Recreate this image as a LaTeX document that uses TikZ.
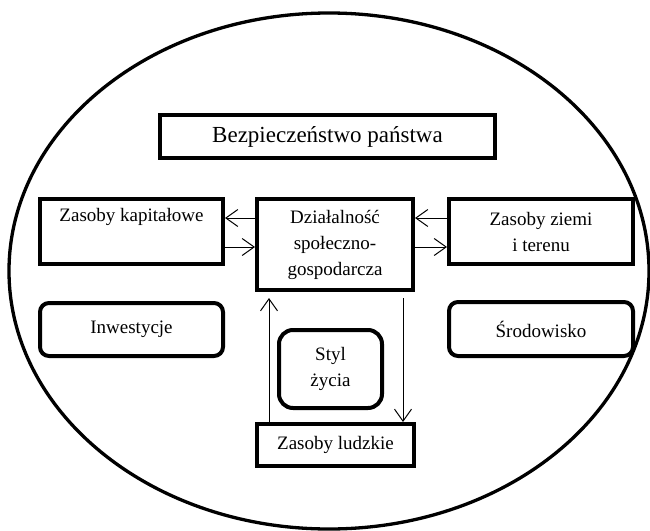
\documentclass[tikz,border=0pt]{standalone}
\usepackage{fontspec}
\setmainfont{Liberation Serif}
\usetikzlibrary{positioning,arrows.meta,calc}
\tikzset{
  box/.style={draw, line width=4pt, rectangle, align=center, inner sep=0pt,
              font=\fontsize{19}{26}\selectfont},
  rbox/.style={box, rounded corners=9pt},
  titlebox/.style={box, font=\fontsize{23}{28}\selectfont},
  arr/.style={-{Straight Barb[length=12pt,width=17pt]}, line width=1pt},
  outline/.style={line width=3.3pt}
}

\begin{document}
\begin{tikzpicture}[x=1pt, y=-1pt]
\useasboundingbox (0,0) rectangle (650,530);
\draw[outline] (329,271) ellipse [x radius=320, y radius=258];
% boxes
\node (bezp) [titlebox, minimum width=335pt, minimum height=43pt] at (327.5,136.5) {Bezpieczeństwo państwa};
\node (kap) [box, minimum width=183pt, minimum height=65pt] at (131.5,231.5) {Zasoby kapitałowe\\\strut};
\node (dzial) [box, minimum width=156pt, minimum height=91pt] at (335,244.5) {Działalność\\społeczno-\\gospodarcza};
\node (ziemia) [box, minimum width=184pt, minimum height=65pt] at (541,231.5) {Zasoby ziemi\\i terenu};
\node (inw) [rbox, minimum width=183pt, minimum height=53pt] at (131.5,329.5) {Inwestycje};
\node (srod) [rbox, minimum width=184pt, minimum height=54pt] at (541,329) {Środowisko};
\node (styl) [rbox, rounded corners=14pt, minimum width=103pt, minimum height=78pt] at (330.5,369) {Styl\\życia};
\node (ludz) [box, minimum width=157pt, minimum height=42pt] at (335.5,445) {Zasoby ludzkie};
% connectors
\draw[arr] ($(dzial.north west)+(0,21)$) -- ($(kap.north east)+(0,21)$);
\draw[arr] ($(kap.north east)+(0,50)$) -- ($(dzial.north west)+(0,50)$);
\draw[arr] ($(ziemia.north west)+(0,21)$) -- ($(dzial.north east)+(0,21)$);
\draw[arr] ($(dzial.north east)+(0,50)$) -- ($(ziemia.north west)+(0,50)$);
\draw[arr, shorten >=6pt] ($(ludz.north west)+(14,0)$) -- ($(dzial.south west)+(14,0)$);
\draw[arr, shorten <=6pt] ($(dzial.south east)+(-12,0)$) -- ($(ludz.north east)+(-13,0)$);
\end{tikzpicture}
\end{document}
